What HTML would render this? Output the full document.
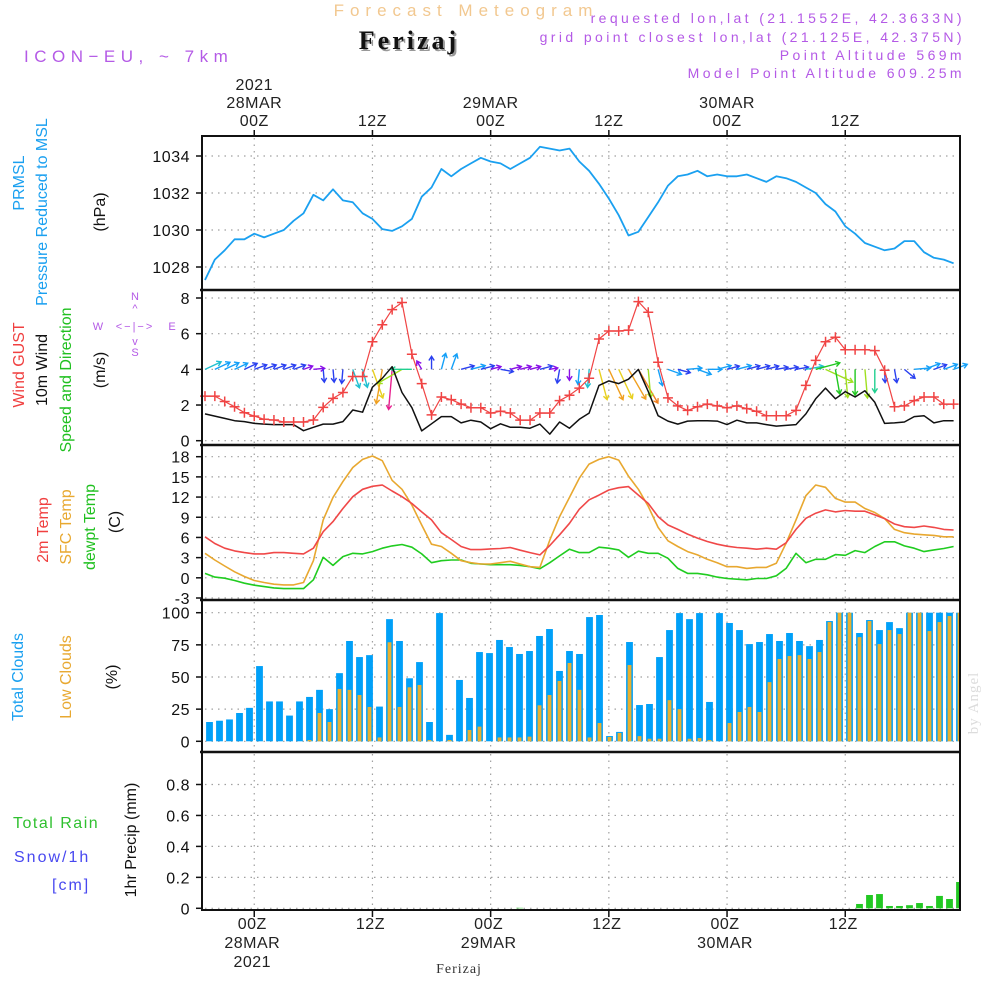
<!DOCTYPE html>
<html><head><meta charset="utf-8">
<style>
html,body{margin:0;padding:0;background:#fff;}
svg{display:block;font-family:"Liberation Sans",sans-serif;}
.tk{font-size:16px;fill:#111;text-anchor:end;letter-spacing:0.5px;}
.tl{font-size:16px;fill:#222;text-anchor:middle;letter-spacing:0.5px;}
.lab{font-size:16px;text-anchor:middle;}
.grid{stroke:#a0a0a0;stroke-width:1.2;stroke-dasharray:1.5,5;fill:none;}
</style></head>
<body>
<svg id="chart" width="1000" height="1000" viewBox="0 0 1000 1000">
  <text x="466" y="16" font-size="17" fill="#f2c890" text-anchor="middle" letter-spacing="6">Forecast Meteogram</text>
  <text x="411" y="51" font-size="26" font-weight="bold" fill="#999" text-anchor="middle" letter-spacing="3" font-family="Liberation Serif, serif">Ferizaj</text>
  <text x="409" y="49" font-size="26" font-weight="bold" fill="#111" text-anchor="middle" letter-spacing="3" font-family="Liberation Serif, serif">Ferizaj</text>
  <text x="24" y="62" font-size="17" fill="#b45ae6" letter-spacing="5.5">ICON−EU, ~ 7km</text>
  <g font-size="14" fill="#b45ae6" text-anchor="end" letter-spacing="3.4">
    <text x="965" y="23">requested lon,lat (21.1552E, 42.3633N)</text>
    <text x="965" y="42">grid point closest lon,lat (21.125E, 42.375N)</text>
    <text x="965" y="60">Point Altitude 569m</text>
    <text x="965" y="78">Model Point Altitude 609.25m</text>
  </g>
  <text x="978" y="703" font-size="15" fill="#dcdcdc" text-anchor="middle" font-family="Liberation Serif, serif" transform="rotate(-90 978 703)" letter-spacing="1">by Angel</text>

  <g class="lab">
    <text transform="translate(24,183) rotate(-90)" fill="#1aa0f0">PRMSL</text>
    <text transform="translate(47,212) rotate(-90)" fill="#1aa0f0">Pressure Reduced to MSL</text>
    <text transform="translate(105,212) rotate(-90)" fill="#111">(hPa)</text>
  </g>
  <g class="lab">
    <text transform="translate(24,365) rotate(-90)" fill="#f04040">Wind GUST</text>
    <text transform="translate(47,370) rotate(-90)" fill="#111">10m Wind</text>
    <text transform="translate(71,380) rotate(-90)" fill="#20c020">Speed and Direction</text>
    <text transform="translate(105,370) rotate(-90)" fill="#111">(m/s)</text>
    <g font-size="11" fill="#b45ae6">
      <text x="135" y="300">N</text><text x="135" y="312">^</text>
      <text x="135" y="330" letter-spacing="2">&lt;−|−&gt;</text>
      <text x="98" y="330">W</text><text x="172" y="330">E</text>
      <text x="135" y="345">v</text><text x="135" y="356">S</text>
    </g>
  </g>
  <g class="lab">
    <text transform="translate(48,530) rotate(-90)" fill="#f04040">2m Temp</text>
    <text transform="translate(71,527) rotate(-90)" fill="#e8a830">SFC Temp</text>
    <text transform="translate(95,527) rotate(-90)" fill="#20c020">dewpt Temp</text>
    <text transform="translate(120,522) rotate(-90)" fill="#111">(C)</text>
  </g>
  <g class="lab">
    <text transform="translate(23,677) rotate(-90)" fill="#1aa0f0">Total Clouds</text>
    <text transform="translate(71,677) rotate(-90)" fill="#e8a830">Low Clouds</text>
    <text transform="translate(117,677) rotate(-90)" fill="#111">(%)</text>
  </g>
  <g font-size="16">
    <text x="13" y="828" fill="#30c030" letter-spacing="1.5">Total   Rain</text>
    <text x="14" y="862" fill="#4848f0" letter-spacing="2">Snow/1h</text>
    <text x="52" y="890" fill="#4848f0" letter-spacing="2">[cm]</text>
    <text class="lab" transform="translate(136,840) rotate(-90)" fill="#111">1hr Precip (mm)</text>
  </g>

  <g id="marks"></g>
  <g id="frames"></g>
  <text x="459" y="973" font-size="14" font-family="Liberation Serif, serif" fill="#333" text-anchor="middle" letter-spacing="1">Ferizaj</text>
</svg>
<script>
// ---- data ----
const pressure=[1027.3,1028.4,1028.9,1029.5,1029.5,1029.8,1029.6,1029.8,1030.0,1030.5,1030.9,1031.9,1031.6,1032.2,1031.6,1031.5,1030.9,1030.6,1030.05,1029.95,1030.2,1030.6,1031.8,1032.3,1033.3,1032.9,1033.3,1033.6,1033.9,1033.7,1033.6,1033.3,1033.6,1033.9,1034.5,1034.4,1034.3,1034.4,1033.7,1033.2,1032.5,1031.7,1030.8,1029.7,1029.9,1030.7,1031.5,1032.4,1032.9,1033.0,1033.2,1032.9,1033.0,1032.9,1032.9,1033.0,1032.8,1032.6,1032.9,1032.8,1032.6,1032.3,1032.0,1031.4,1031.0,1030.2,1029.8,1029.3,1029.1,1028.9,1029.0,1029.4,1029.4,1028.8,1028.5,1028.4,1028.2];
const windGust=[2.5,2.5,2.2,1.9,1.57,1.38,1.2,1.16,1.05,1.05,1.05,1.16,1.87,2.37,2.7,3.6,3.6,5.55,6.5,7.35,7.75,4.85,3.2,1.45,2.45,2.3,2.05,1.85,1.85,1.55,1.65,1.55,1.15,1.15,1.55,1.55,2.25,2.55,2.95,3.5,5.7,6.15,6.15,6.2,7.8,7.2,4.4,2.4,1.95,1.7,1.9,2.05,1.95,1.85,1.95,1.8,1.65,1.4,1.4,1.4,1.7,3.1,4.5,5.55,5.8,5.1,5.1,5.1,5.05,3.95,1.9,1.95,2.25,2.45,2.45,2.05,2.05];
const windSpeed=[1.5,1.38,1.25,1.12,1.07,0.97,0.93,0.9,0.9,0.9,0.56,0.75,0.93,0.93,1.07,1.72,1.6,3.0,3.5,4.15,2.7,1.85,0.55,0.95,1.35,1.35,1.0,1.15,1.05,0.67,0.95,0.75,0.75,0.7,0.93,0.37,1.05,0.7,1.2,1.55,3.1,3.35,3.2,3.45,4.0,2.75,1.4,1.1,0.93,1.1,1.12,1.12,1.1,0.9,1.15,1.0,1.0,0.9,0.82,0.86,0.9,1.5,2.35,2.95,2.35,2.75,2.45,2.8,2.15,0.97,1.0,1.05,1.35,1.4,1.0,1.12,1.12];
const windDirDeg=[-25,-25,-25,-25,-25,-20,-20,-20,-20,-20,-20,-5,85,85,95,70,75,70,100,95,150,180,-120,-90,-75,-70,-15,-15,-15,-15,10,-15,-15,-15,-15,-10,100,90,95,95,75,65,65,60,60,85,75,20,15,-5,20,0,-15,-15,-15,-15,-15,-15,-10,-10,-10,-10,-15,25,80,85,90,85,90,88,80,40,-5,-20,-20,-20,-20];
const temp2m=[6.1,5.1,4.4,4.0,3.75,3.55,3.55,3.75,3.75,3.65,3.55,4.4,6.85,8.35,10.3,12.05,13.15,13.6,13.8,12.9,12.05,11.05,9.8,8.6,6.7,5.7,4.65,4.2,4.2,4.3,4.35,4.5,4.1,3.75,3.4,4.8,6.4,8.1,10.2,11.6,12.3,13.05,13.4,13.55,12.3,11.05,9.1,7.85,7.2,6.5,5.9,5.4,5.0,4.7,4.5,4.4,4.25,4.4,4.25,5.2,7.2,8.85,9.6,10.1,9.8,10.0,9.9,9.9,9.35,8.8,8.0,7.6,7.5,7.7,7.5,7.2,7.1];
const tempSfc=[3.65,2.65,1.75,0.9,0.2,-0.4,-0.7,-0.95,-1.05,-1.05,-0.7,2.55,8.6,11.95,14.3,16.4,17.6,18.1,17.4,14.5,13.15,10.8,7.85,5.0,4.65,3.65,2.55,2.25,2.05,2.05,2.25,2.45,2.05,1.65,1.55,5.6,9.1,11.95,14.8,16.9,17.6,18.0,17.5,15.1,13.15,10.6,7.5,5.5,4.65,3.9,3.4,2.75,2.25,1.65,1.65,1.4,1.55,1.55,2.15,5.15,8.6,12.2,13.8,13.45,11.8,11.25,11.25,10.3,9.7,8.8,7.2,6.7,6.5,6.4,6.3,6.1,6.1];
const dewpt=[0.65,0.1,-0.05,-0.4,-0.8,-1.1,-1.3,-1.5,-1.6,-1.6,-1.6,-0.3,3.05,1.85,3.15,3.65,3.55,3.9,4.4,4.75,4.95,4.55,3.55,2.25,2.55,2.65,2.65,2.15,2.05,1.95,1.95,1.95,1.85,1.65,1.35,2.25,3.25,4.25,3.75,3.75,4.55,4.4,4.15,3.05,3.95,3.65,3.65,2.9,1.4,0.65,0.65,0.45,0.1,-0.1,-0.2,-0.3,-0.1,-0.1,0.3,1.4,3.65,2.25,2.75,2.75,3.45,3.35,4.05,3.75,4.65,5.35,5.35,4.75,4.4,3.9,4.15,4.35,4.65];
const totalClouds=[11,15,16,17,22,26,58.5,31,31,20,31,34.5,40,25,53,78,65.5,67,27,95,78,49,61.6,15,99.7,5,47.7,33.7,69.4,68.6,78.8,73.3,67.9,70.2,81.9,87.3,54.7,70.2,67.9,96.6,98.2,4.1,7.3,77.2,28.2,29,65.5,86.5,99.7,95,99.7,30.6,99.7,92,86.5,75.6,77.2,83.4,78,84.2,78,74,78.8,93.5,100,100,84.2,94.3,86.5,92.7,88,100,100,100,100,100,100];
const lowClouds=[0,0,0,0,0,0,0,0,0,0,0,1,22,15,40.7,40,36,26.7,3,77,26.7,42,43.8,1,0,1,0,8.8,11.4,0,3,3,3,3.6,28,36,46.9,60.9,40,3,14.2,3.4,6.5,59.3,4,2,2,32,25,2,2.5,1,0,14.2,22.8,26.7,22.8,46,64,66.3,67,64,69.4,92.7,100,100,81,93.5,75.6,86.5,83.4,100,100,85.7,92.7,97.4,100];
const precip=[0,0,0,0,0,0,0,0,0,0,0,0,0,0,0,0,0,0,0,0,0,0,0,0,0,0,0,0,0,0,0,0,0.003,0,0,0,0,0,0,0,0,0,0,0,0,0,0,0,0,0,0,0,0,0,0,0,0,0,0,0,0,0,0,0,0,0,0.028,0.086,0.092,0.015,0.015,0.02,0.034,0.015,0.08,0.06,0.17];
const timeTicksTop=[["2021","28MAR","00Z"],["","","12Z"],["","29MAR","00Z"],["","","12Z"],["","30MAR","00Z"],["","","12Z"]];
const timeTicksBottom=[["00Z","28MAR","2021"],["12Z","",""],["00Z","29MAR",""],["12Z","",""],["00Z","30MAR",""],["12Z","",""]];
const tickHours=[0,12,24,36,48,60];
const pTicks=[1028,1030,1032,1034];
const wTicks=[0,2,4,6,8];
const tTicks=[-3,0,3,6,9,12,15,18];
const cTicks=[0,25,50,75,100];
const rTicks=[0,0.2,0.4,0.6,0.8];

const L=202,R=960;
const NS="http://www.w3.org/2000/svg";
const marks=document.getElementById('marks');
const frames=document.getElementById('frames');
function el(tag,attrs,parent){const e=document.createElementNS(NS,tag);for(const k in attrs)e.setAttribute(k,attrs[k]);(parent||marks).appendChild(e);return e;}
const xLine=i=>205+9.85*i;
const xHour=h=>xLine(h+5);
const xBar=j=>199.5+10*j;
function lin(d0,d1,r0,r1){return v=>r0+(v-d0)*(r1-r0)/(d1-d0);}
const yP=lin(1028,1034,267,156);
const yW=lin(0,8,440.7,298);
const yT=lin(-3,18,598,456.7);
const yC=lin(0,100,741.3,612.7);
const yR=lin(0,0.8,908.3,784.5);
const panels=[[136,290],[290,445],[445,600],[600,752],[752,910]];

const gridG=el('g',{},marks);


panels.forEach(p=>{tickHours.forEach(h=>{el('line',{class:'grid',x1:xHour(h),x2:xHour(h),y1:p[0]+2,y2:p[1]-2},gridG);});});
function hgrid(ticks,ys,name){
  ticks.forEach(t=>{const y=ys(t);
    el('line',{class:'grid',x1:L+3,x2:R-3,y1:y,y2:y},gridG);
    const tx=el('text',{class:'tk',x:190,y:y+6},frames);tx.textContent=String(t);
    
    
    el('line',{x1:L-6,x2:L,y1:y,y2:y,stroke:'#111','stroke-width':1.5},frames);
  });
}
hgrid(pTicks,yP,'pressure');hgrid(wTicks,yW,'wind');hgrid(tTicks,yT,'temp');hgrid(cTicks,yC,'cloud');hgrid(rTicks,yR,'precip');

function poly(vals,xs,ys,color,name,w){
  const pts=vals.map((v,i)=>xs(i).toFixed(1)+','+ys(v).toFixed(1)).join(' ');
  const p=el('polyline',{points:pts,fill:'none',stroke:color,'stroke-width':w||1.6,'stroke-linejoin':'round'});
  
  
  return p;
}
poly(pressure,xLine,yP,'#1aa0f0','pressure-line',1.8);

function spdColor(s){
  if(s<0.8)return '#8a10e8';if(s<1.1)return '#2a40f0';if(s<1.45)return '#14a0f8';if(s<1.8)return '#20c0d0';
  if(s<2.3)return '#20d090';if(s<2.7)return '#20c820';if(s<3.0)return '#a0e020';if(s<3.3)return '#e8d020';
  if(s<3.8)return '#f0a020';if(s<4.05)return '#f08020';return '#e82090';
}
const arrowsG=el('g',{fill:'none','stroke-width':1.4});


windDirDeg.forEach((d,i)=>{
  const s=windSpeed[i],a=d*Math.PI/180,len=5+8.5*s;
  const x0=xLine(i),y0=yW(4),x1=x0+len*Math.cos(a),y1=y0+len*Math.sin(a);
  const c=spdColor(s);
  const h1=a+Math.PI*0.82,h2=a-Math.PI*0.82;
  const ar=el('path',{d:`M${x0},${y0}L${x1},${y1}M${x1+5*Math.cos(h1)},${y1+5*Math.sin(h1)}L${x1},${y1}L${x1+5*Math.cos(h2)},${y1+5*Math.sin(h2)}`,stroke:c},arrowsG);
  
  
});
poly(windSpeed,xLine,yW,'#111','wind-speed-line',1.5);
poly(windGust,xLine,yW,'#f04444','wind-gust-line',1.2);
const gustG=el('g',{stroke:'#f04444','stroke-width':1.5});


windGust.forEach((v,i)=>{const x=xLine(i),y=yW(v);
  const m=el('path',{d:`M${x-5},${y}H${x+5}M${x},${y-5}V${y+5}`},gustG);
  
  
});

poly(dewpt,xLine,yT,'#20cc20','dewpoint-line',1.6);
poly(tempSfc,xLine,yT,'#e8a830','sfc-temp-line',1.6);
poly(temp2m,xLine,yT,'#f04848','temp-2m-line',1.6);

totalClouds.forEach((v,j)=>{
  const x=xBar(j),y=yC(v);
  const b=el('rect',{x:Math.max(L,x-3.4),y:y,width:Math.min(x+3.4,R)-Math.max(L,x-3.4),height:yC(0)-y,fill:'#00a0f8'});
  
  
  const lv=lowClouds[j];
  if(lv>0){const yl=yC(lv);
    const lb=el('rect',{x:Math.max(L,x-1.9),y:yl,width:Math.min(x+1.9,R)-Math.max(L,x-1.9),height:yC(0)-yl,fill:'#e8b030'});
    
    }
});

precip.forEach((v,j)=>{
  if(v<=0)return;const x=xBar(j),y=yR(v);
  const b=el('rect',{x:x-3.4,y:y,width:Math.min(x+3.4,R)-(x-3.4),height:yR(0)-y,fill:'#22c822'});
  
  
});

const fr=el('rect',{x:L,y:136,width:R-L,height:910-136,fill:'none',stroke:'#111','stroke-width':2},frames);


[290,445,600,752].forEach(y=>{el('line',{x1:L-2,x2:R+1,y1:y,y2:y,stroke:'#111','stroke-width':2.5},frames);});

tickHours.forEach((h,k)=>{
  const x=xHour(h);
  el('line',{x1:x,x2:x,y1:130,y2:136,stroke:'#111','stroke-width':1.5},frames);
  el('line',{x1:x,x2:x,y1:910,y2:917,stroke:'#111','stroke-width':1.5},frames);
  const top=timeTicksTop[k];
  [90,108,126].forEach((y,r)=>{if(!top[r])return;const t=el('text',{class:'tl',x:x,y:y},frames);t.textContent=top[r];
    
    });
  const bot=timeTicksBottom[k];
  [929,948,967].forEach((y,r)=>{if(!bot[r])return;const t=el('text',{class:'tl',x:x-2,y:y},frames);t.textContent=bot[r];
    
    });
});
</script>
</body></html>
